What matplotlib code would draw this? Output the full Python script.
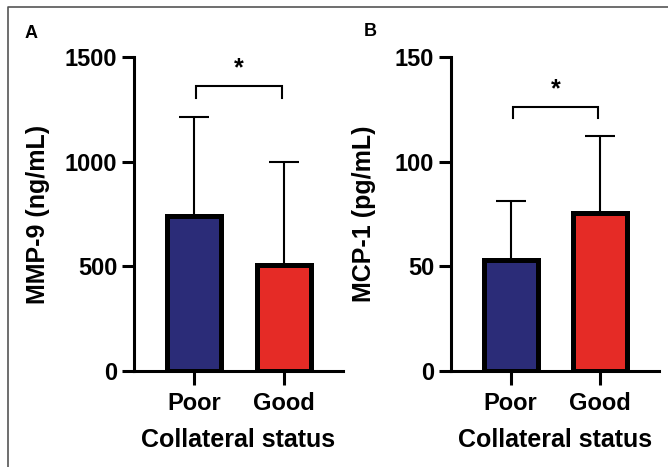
import matplotlib
matplotlib.use("Agg")
import matplotlib.pyplot as plt
from matplotlib.lines import Line2D

plt.rcParams['font.family'] = ['Liberation Sans', 'DejaVu Sans']
plt.rcParams['font.weight'] = 'bold'

categories = ['Poor', 'Good']
mmp9_mean = [740, 506]
mmp9_err = [473, 492]
mcp1_mean = [53.0, 75.3]
mcp1_err = [28.3, 37.0]
mmp9_yticks = [0, 500, 1000, 1500]
mcp1_yticks = [0, 50, 100, 150]
bar_colors = ['#2B2C78', '#E52B26']

fig = plt.figure(figsize=(6.68, 4.67), dpi=100)
W, H = 668, 467

def px_axes(l, r, t, b):
    return fig.add_axes([l / W, 1 - b / H, (r - l) / W, (b - t) / H])

axA = px_axes(134, 343, 57, 371)
axB = px_axes(451, 659, 57, 371)

panels = [
    (axA, mmp9_mean, mmp9_err, mmp9_yticks, 'MMP-9 (ng/mL)', (1306, 1361, 1390), -0.40),
    (axB, mcp1_mean, mcp1_err, mcp1_yticks, 'MCP-1 (pg/mL)', (120.7, 126.0, 129.0), -0.36),
]

for ax, means, errs, yt, ylab, br, lx in panels:
    x = list(range(len(categories)))
    ax.bar(x, means, width=0.6, color=bar_colors, edgecolor='black',
           linewidth=3.6, zorder=3)
    ax.errorbar(x, means, yerr=[[0] * len(errs), errs], fmt='none',
                ecolor='black', elinewidth=1.5, capsize=11, capthick=1.5, zorder=2)
    ax.set_xlim(-0.667, 1.656)
    ax.set_ylim(yt[0], yt[-1])
    ax.set_yticks(yt)
    ax.set_xticks(x)
    ax.set_xticklabels(categories)
    for s in ['top', 'right']:
        ax.spines[s].set_visible(False)
    for s in ['left', 'bottom']:
        ax.spines[s].set_linewidth(2.2)
    ax.tick_params(axis='y', length=9, width=2.2, labelsize=17, pad=3)
    ax.tick_params(axis='x', length=10, width=2.2, labelsize=17, pad=5)
    ax.set_ylabel(ylab, fontsize=18, fontweight='bold')
    ax.yaxis.set_label_coords(lx, 0.5)
    ax.set_xlabel('Collateral status', fontsize=18, fontweight='bold')
    ax.xaxis.set_label_coords(0.5, -0.18)
    lo, hi, st = br
    ax.plot([0.02, 0.02, 0.98, 0.98], [lo, hi, hi, lo], color='black',
            lw=1.5, clip_on=False, solid_joinstyle='miter')
    ax.text(0.5, st, '*', ha='center', va='bottom', fontsize=18,
            fontweight='bold', clip_on=False)

fig.text(31 / W, 1 - 33 / H, 'A', ha='center', va='center', fontsize=13, fontweight='bold')
fig.text(370 / W, 1 - 31 / H, 'B', ha='center', va='center', fontsize=13, fontweight='bold')

fig.add_artist(Line2D([8 / W, 8 / W, 1], [0, 1 - 7 / H, 1 - 7 / H],
                      transform=fig.transFigure, color='#555555', lw=1.2))

fig.savefig('out.png', dpi=100)
